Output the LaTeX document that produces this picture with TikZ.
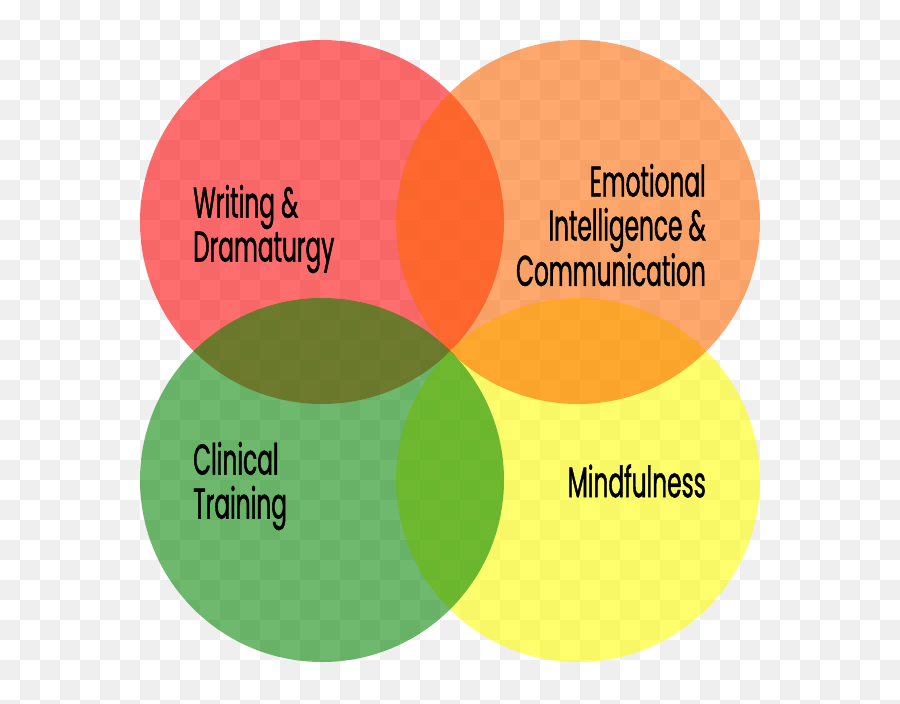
\documentclass[tikz,border=0pt]{standalone}
\usepackage{fontspec}
\setmainfont[FakeStretch=0.54, FakeBold=1]{Poppins}
\usepackage{tikz}
\usetikzlibrary{positioning}
\definecolor{checkgray}{RGB}{239,239,239}
\definecolor{vred}{RGB}{255,0,0}
\definecolor{vorange}{RGB}{255,102,0}
\definecolor{vyellow}{RGB}{255,255,0}
\definecolor{vgreen}{RGB}{0,133,0}
\tikzset{
  venn/.style={circle, draw=none, minimum size=364pt, inner sep=0pt, fill opacity=0.57},
  label/.style={inner sep=0pt, font=\fontsize{43}{44}\selectfont, text=black}
}

\begin{document}
\begin{tikzpicture}[x=1pt, y=-1pt]
  \useasboundingbox (0,0) rectangle (900,704);
  \fill[white] (0,0) rectangle (900,704);
  % checker background
  \foreach \i in {0,...,44}
    \foreach \j in {0,...,35}{
      \pgfmathtruncatemacro\k{\i+\j}
      \ifodd\k \fill[checkgray] (20*\i,20*\j) rectangle ++(20,20); \fi
    }

  \node[venn, fill=vred] (writing) at (322,222) {};
  \node[venn, fill=vyellow] (mind) at (578,480) {};
  \node[venn, fill=vorange] (emo) at (578,222) {};
  \node[venn, fill=vgreen] (clinic) at (322,480) {};

  \node[label, anchor=west, align=left] (writingtext) at (193,229) {Writing \&\\Dramaturgy};
  \node[label, anchor=east, align=right] (emotext) at (706,225) {Emotional\\Intelligence \&\\Communication};
  \node[label, anchor=west, align=left] (clinictext) at (193,486) {Clinical\\Training};
  \node[label, anchor=east] (mindtext) at (706,481) {Mindfulness};
\end{tikzpicture}
\end{document}
